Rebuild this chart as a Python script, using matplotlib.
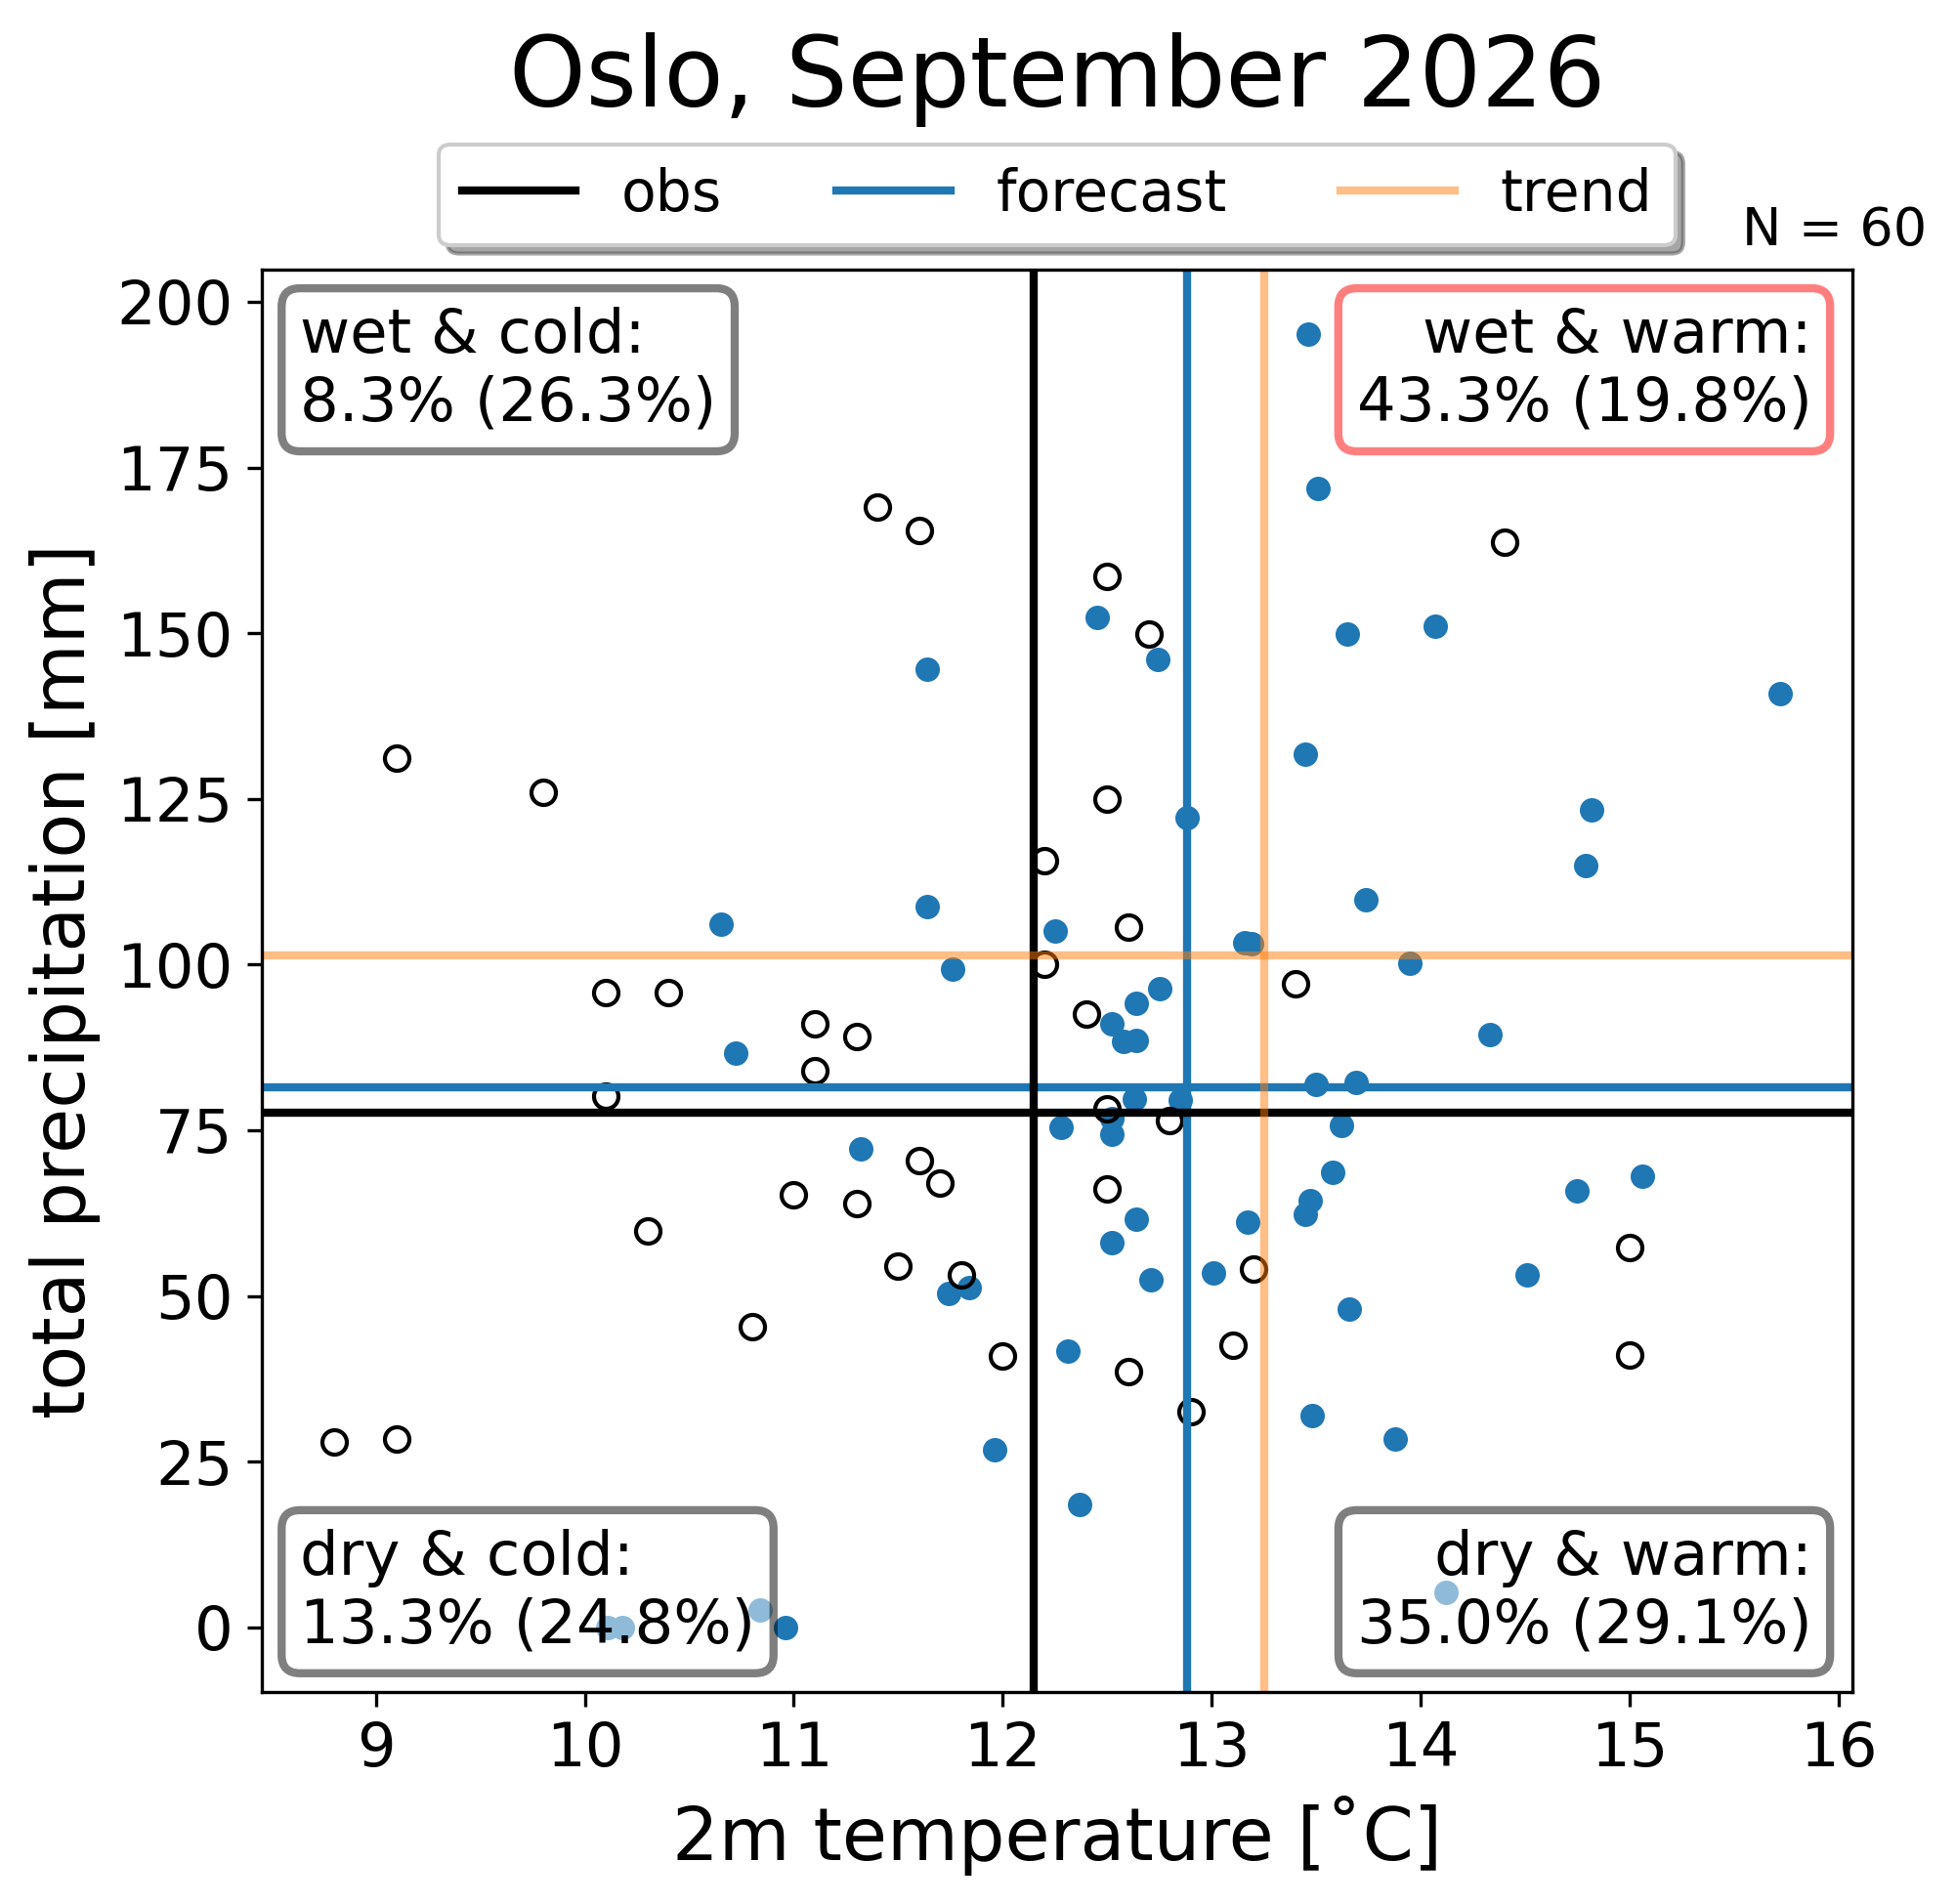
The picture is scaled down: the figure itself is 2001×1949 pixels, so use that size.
import numpy as np
import matplotlib
matplotlib.use("Agg")
import matplotlib.pyplot as plt

# observed years (temperature, precipitation)
obs_t = [9.1, 9.8, 11.4, 11.6, 12.5, 12.7, 14.4, 12.5, 12.2, 12.6, 12.2, 10.1, 10.4,
         11.1, 11.3, 11.1, 10.1, 12.4, 13.4, 12.5, 12.8, 11.6, 11.7, 11.0, 11.3, 12.5,
         10.3, 11.5, 11.8, 13.2, 10.8, 12.0, 13.1, 12.6, 12.9, 15.0, 15.0, 8.8, 9.1]
obs_p = [131.1, 126.0, 169.1, 165.5, 158.6, 149.9, 163.7, 125.0, 115.6, 105.7, 100.0, 95.7, 95.7,
         91.1, 89.2, 84.0, 80.1, 92.5, 97.1, 78.3, 76.4, 70.4, 67.0, 65.3, 64.0, 66.1,
         59.8, 54.5, 53.2, 54.0, 45.3, 41.0, 42.6, 38.6, 32.6, 57.3, 41.1, 28.0, 28.4]

# forecast ensemble members
fc_t = [13.46, 13.51, 12.45, 13.65, 14.07, 12.74, 11.64, 15.72, 13.45, 12.88,
        14.82, 14.79, 13.74, 11.64, 10.65, 12.25, 13.16, 13.19, 13.95, 11.76,
        12.75, 12.64, 12.52, 12.58, 12.64, 14.33, 10.72, 13.50, 13.69, 12.63,
        12.85, 12.52, 12.28, 12.52, 13.62, 11.32, 13.58, 15.06, 14.75, 13.47,
        13.45, 12.64, 13.17, 12.52, 13.01, 12.71, 14.51, 11.84, 11.74, 13.66,
        12.31, 13.48, 13.88, 11.96, 12.37, 14.12, 10.84, 10.11, 10.18, 10.96]
fc_p = [195.1, 171.9, 152.4, 149.9, 151.0, 146.1, 144.6, 140.9, 131.8, 122.2,
        123.4, 114.9, 109.8, 108.7, 106.1, 105.0, 103.3, 103.1, 100.2, 99.3,
        96.4, 94.2, 91.0, 88.4, 88.6, 89.5, 86.7, 81.9, 82.2, 79.7,
        79.6, 76.7, 75.4, 74.4, 75.7, 72.2, 68.6, 68.0, 65.9, 64.3,
        62.3, 61.5, 61.1, 58.0, 53.5, 52.4, 53.1, 51.3, 50.4, 48.0,
        41.6, 32.0, 28.4, 26.8, 18.5, 5.3, 2.6, 0.0, 0.0, 0.0]

# reference lines (temperature, precipitation)
obs_ref = (12.15, 77.7)
fc_ref = (12.88, 81.5)
trend_ref = (13.25, 101.3)

quad_names = ["wet & cold", "wet & warm", "dry & cold", "dry & warm"]
clim_pct = [26.3, 19.8, 24.8, 29.1]

fc_t_arr = np.array(fc_t)
fc_p_arr = np.array(fc_p)
warm = fc_t_arr > obs_ref[0]
wet = fc_p_arr > obs_ref[1]
masks = [wet & ~warm, wet & warm, ~wet & ~warm, ~wet & warm]
fc_pct = [100.0 * m.sum() / len(fc_t) for m in masks]

fig = plt.figure(figsize=(2001 / 300, 1949 / 300), dpi=300)
ax = fig.add_axes([0.1339, 0.1114, 0.8136, 0.7470])

ax.plot(fc_t, fc_p, "o", color="tab:blue", ms=6, mew=0, zorder=2)
ax.plot(obs_t, obs_p, "o", mfc="none", mec="k", ms=6, mew=1, zorder=2)

lw = 2
h_fc = ax.axvline(fc_ref[0], color="tab:blue", lw=lw, label="forecast", zorder=2.2)
ax.axhline(fc_ref[1], color="tab:blue", lw=lw, zorder=2.2)
h_obs = ax.axvline(obs_ref[0], color="k", lw=lw, label="obs", zorder=2.3)
ax.axhline(obs_ref[1], color="k", lw=lw, zorder=2.3)
h_tr = ax.axvline(trend_ref[0], color="tab:orange", alpha=0.5, lw=lw, label="trend", zorder=2.4)
ax.axhline(trend_ref[1], color="tab:orange", alpha=0.5, lw=lw, zorder=2.4)

ax.tick_params(labelsize=15)
ax.set_xlabel("2m temperature [˚C]", fontsize=18)
ax.set_ylabel("total precipitation [mm]", fontsize=18)
ax.set_title("Oslo, September 2026", fontsize=24, pad=40)

ax.legend(handles=[h_obs, h_fc, h_tr], loc="lower center", bbox_to_anchor=(0.5, 0.997),
          ncol=3, fontsize=14, shadow=True)

ax.text(1.047, 1.017, f"N = {len(fc_t)}", transform=ax.transAxes, ha="right",
        va="baseline", fontsize=13)

best = int(np.argmax(fc_pct))
pos = [(0.024, 0.974, "left", "top"), (0.9745, 0.974, "right", "top"),
       (0.024, 0.026, "left", "bottom"), (0.9745, 0.026, "right", "bottom")]
for i, (x, y, ha, va) in enumerate(pos):
    edge = "r" if i == best else "k"
    ax.text(x, y, f"{quad_names[i]}:\n{fc_pct[i]:.1f}% ({clim_pct[i]:.1f}%)",
            transform=ax.transAxes, ha=ha, va=va, multialignment=ha, fontsize=15,
            bbox=dict(boxstyle="round", facecolor="white", edgecolor=edge,
                      alpha=0.5, lw=2))

fig.savefig("out.png", dpi=300)
